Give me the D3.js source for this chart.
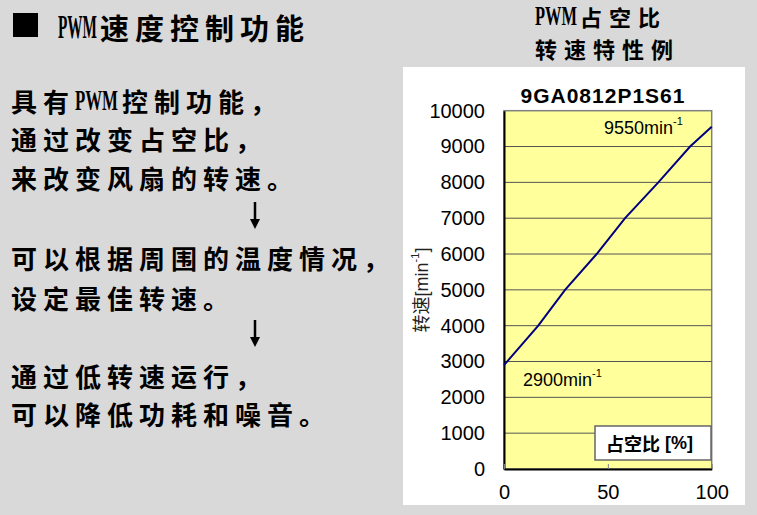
<!DOCTYPE html>
<html>
<head>
<meta charset="utf-8">
<script src="https://cdn.jsdelivr.net/npm/d3@7"></script>
<style>
  html, body { margin: 0; padding: 0; background: #d9d9d9; }
  svg { display: block; }
</style>
</head>
<body>
<svg id="chart" width="757" height="515"></svg>
<script>
// text on the left
var headerText = 'PWM速度控制功能';
var bodyLines = [
  '具有PWM控制功能，',
  '通过改变占空比，',
  '来改变风扇的转速。',
  '可以根据周围的温度情况，',
  '设定最佳转速。',
  '通过低转速运行，',
  '可以降低功耗和噪音。'
];
var bodyLineY = [100, 138, 177, 257, 297, 375, 413];
var arrowTops = [202, 320];

// chart
var chartTitleLines = ['PWM占空比', '转速特性例'];
var modelName = '9GA0812P1S61';
var dutyPct = [0, 16.5, 29.4, 44.6, 58.3, 74.3, 89.6, 100];
var speedRpm = [2900, 4000, 5000, 6000, 7000, 8000, 9000, 9550];
var yTicks = [0, 1000, 2000, 3000, 4000, 5000, 6000, 7000, 8000, 9000, 10000];
var xTicks = [0, 50, 100];
var minLabel = '2900';
var maxLabel = '9550';

var svg = d3.select('#chart');
var cjk = '"Noto Sans CJK SC", "Noto Sans CJK JP", sans-serif';
var sans = '"Liberation Sans", Arial, "Noto Sans CJK SC", sans-serif';

// lay a string out as latin / cjk runs; latin runs are a narrow serif,
// squeezed with a horizontal scale to latinLen
function richText(x0, y0, str, size, spacing, latinSize, latinLen, gap) {
  var runs = str.match(/[\x00-\x7F]+|[^\x00-\x7F]+/g);
  var cx = x0;
  runs.forEach(function(r) {
    if (/^[\x00-\x7F]+$/.test(r)) {
      var g = svg.append('g');
      var t = g.append('text')
        .attr('font-family', '"Liberation Serif", serif')
        .attr('font-weight', 700)
        .attr('font-size', latinSize)
        .text(r);
      var w = t.node().getComputedTextLength();
      g.attr('transform', 'translate(' + cx + ',' + (y0 + latinSize * 0.33) + ') scale(' + (latinLen / w) + ',1)');
      cx += latinLen + gap;
    } else {
      var c = svg.append('text')
        .attr('x', cx).attr('y', y0)
        .attr('dominant-baseline', 'central')
        .attr('font-family', cjk)
        .attr('font-weight', 700)
        .attr('font-size', size)
        .attr('letter-spacing', spacing)
        .text(r);
      cx += c.node().getComputedTextLength();
    }
  });
}

// header
svg.append('rect')
  .attr('x', 13).attr('y', 13)
  .attr('width', 25).attr('height', 24)
  .attr('fill', '#000');

richText(58, 27, headerText, 29, 6, 33, 39, 3);

bodyLines.forEach(function(line, i) {
  richText(11, bodyLineY[i], line, 26, 6, 29, 43, 4);
});

arrowTops.forEach(function(y0) {
  svg.append('line')
    .attr('x1', 255).attr('x2', 255)
    .attr('y1', y0).attr('y2', y0 + 20)
    .attr('stroke', '#000').attr('stroke-width', 2.5);
  svg.append('path')
    .attr('d', 'M250,' + (y0 + 17) + 'L260,' + (y0 + 17) + 'L255,' + (y0 + 27) + 'Z')
    .attr('fill', '#000');
});

// chart titles above the panel
chartTitleLines.forEach(function(line, i) {
  richText(535, 16 + i * 32, line, 22, 7, 28, 42, 3);
});

// white panel
svg.append('rect')
  .attr('x', 403).attr('y', 67)
  .attr('width', 342).attr('height', 438)
  .attr('fill', '#fff');

var x = d3.scaleLinear().domain([0, 100]).range([504, 711.7]);
var y = d3.scaleLinear().domain([0, 10000]).range([469, 110.7]);

svg.append('rect')
  .attr('x', x(0)).attr('y', y(10000))
  .attr('width', x(100) - x(0)).attr('height', y(0) - y(10000))
  .attr('fill', '#ffff9c')
  .attr('stroke', '#808080')
  .attr('stroke-width', 1.5);

// grid
svg.append('g')
  .selectAll('line')
  .data(yTicks.slice(1, -1))
  .enter()
  .append('line')
  .attr('x1', x(0)).attr('x2', x(100))
  .attr('y1', function(d) { return y(d); })
  .attr('y2', function(d) { return y(d); })
  .attr('stroke', '#555')
  .attr('stroke-width', 1);

var yAxis = svg.append('g')
  .attr('transform', 'translate(' + x(0) + ',0)')
  .call(d3.axisLeft(y).tickValues(yTicks).tickFormat(d3.format('d')).tickSize(0).tickPadding(19));
yAxis.select('.domain').attr('stroke', '#000').attr('stroke-width', 2);
yAxis.selectAll('text')
  .attr('font-family', sans)
  .attr('font-size', 20)
  .attr('fill', '#000');

var xAxis = svg.append('g')
  .attr('transform', 'translate(0,' + y(0) + ')')
  .call(d3.axisBottom(x).tickValues(xTicks).tickFormat(d3.format('d')).tickSizeInner(-5).tickSizeOuter(0).tickPadding(16));
xAxis.select('.domain').attr('stroke', '#000').attr('stroke-width', 2);
xAxis.selectAll('.tick line').attr('stroke', '#808080');
xAxis.selectAll('text')
  .attr('font-family', sans)
  .attr('font-size', 20)
  .attr('fill', '#000');

// curve
var line = d3.line()
  .x(function(d, i) { return x(dutyPct[i]); })
  .y(function(d) { return y(d); });

svg.append('path')
  .datum(speedRpm)
  .attr('d', line)
  .attr('fill', 'none')
  .attr('stroke', '#000080')
  .attr('stroke-width', 2);

// title inside panel
svg.append('text')
  .attr('x', 603).attr('y', 95)
  .attr('text-anchor', 'middle')
  .attr('dominant-baseline', 'central')
  .attr('font-family', sans)
  .attr('font-weight', 700)
  .attr('font-size', 21)
  .attr('letter-spacing', 1)
  .text(modelName);

// y label
var yl = svg.append('text')
  .attr('transform', 'translate(422,290) rotate(-90)')
  .attr('text-anchor', 'middle')
  .attr('dominant-baseline', 'central')
  .attr('font-family', sans)
  .attr('font-size', 18)
  .attr('fill', '#222');
yl.append('tspan').text('转速[min');
yl.append('tspan').attr('font-size', 11).attr('dy', -7).text('-1');
yl.append('tspan').attr('dy', 7).text(']');

// end point labels
function rpmLabel(px, py, val) {
  var t = svg.append('text')
    .attr('x', px).attr('y', py)
    .attr('dominant-baseline', 'central')
    .attr('font-family', sans)
    .attr('font-size', 18)
    .attr('fill', '#000');
  t.append('tspan').text(val + 'min');
  t.append('tspan').attr('font-size', 11).attr('dy', -7).text('-1');
}
rpmLabel(604, 128, maxLabel);
rpmLabel(523, 380, minLabel);

// duty box
svg.append('rect')
  .attr('x', 595).attr('y', 426)
  .attr('width', 116).attr('height', 34)
  .attr('fill', '#fff')
  .attr('stroke', '#666')
  .attr('stroke-width', 1.5);
var dl = svg.append('text')
  .attr('x', 606).attr('y', 443)
  .attr('dominant-baseline', 'central')
  .attr('font-family', sans)
  .attr('font-weight', 700)
  .attr('font-size', 18);
dl.append('tspan').attr('font-family', cjk).text('占空比');
dl.append('tspan').text(' [%]');
</script>
</body>
</html>
